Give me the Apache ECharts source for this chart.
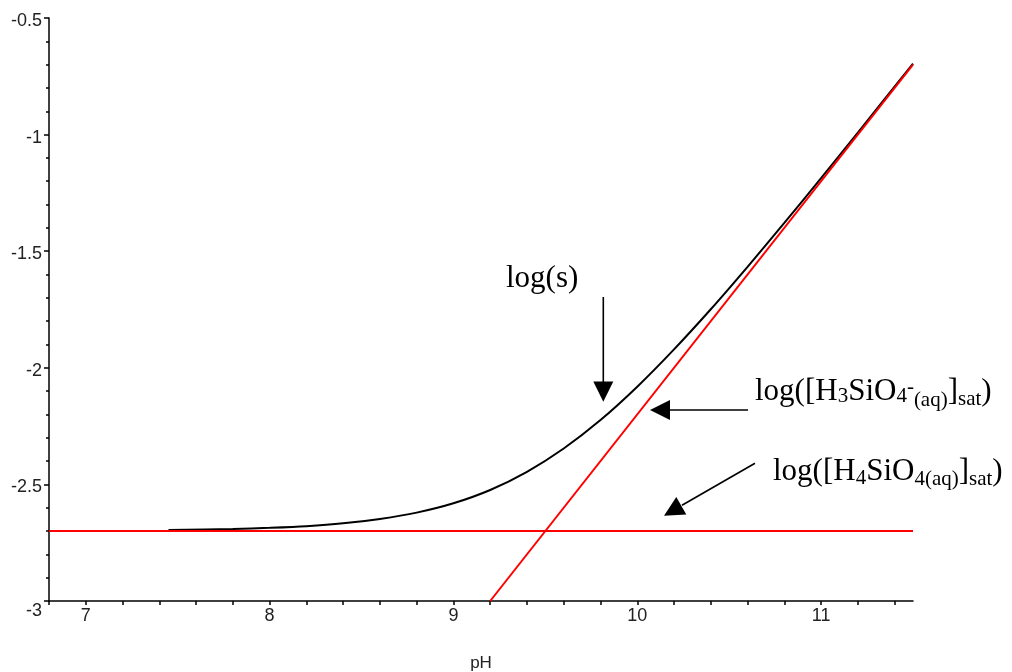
<!DOCTYPE html>
<html>
<head>
<meta charset="utf-8">
<script src="https://cdn.jsdelivr.net/npm/echarts@6/dist/echarts.min.js"></script>
<style>html,body{margin:0;padding:0;background:#fff}#c{width:1012px;height:672px}</style>
</head>
<body>
<div id="c"></div>
<script>
// ---- data ----
const phValues = [7.45, 7.8, 8.0, 8.2, 8.4, 8.6, 8.8, 9.0, 9.2, 9.4, 9.6, 9.8, 10.0, 10.2, 10.4, 10.6, 10.8, 11.0, 11.2, 11.5];
const logS     = [-2.696, -2.691, -2.686, -2.679, -2.667, -2.648, -2.621, -2.581, -2.524, -2.446, -2.346, -2.224, -2.081, -1.921, -1.749, -1.567, -1.379, -1.187, -0.991, -0.696];
const h4Line   = [[6.8, -2.7], [11.5, -2.7]];
const h3Line   = [[9.2, -3.0], [11.5, -0.7]];
const xTickValues  = [6.8, 7.0, 7.2, 7.4, 7.6, 7.8, 8.0, 8.2, 8.4, 8.6, 8.8, 9.0, 9.2, 9.4, 9.6, 9.8, 10.0, 10.2, 10.4, 10.6, 10.8, 11.0, 11.2, 11.4];
const xLabelValues = [7, 8, 9, 10, 11];

const serif = "'Liberation Serif','Times New Roman',serif";
const sans = "'Liberation Sans',Arial,sans-serif";

const chart = echarts.init(document.getElementById('c'));
chart.setOption({
  animation: false,
  backgroundColor: '#fff',
  grid: { left: 49, right: 99, top: 18, bottom: 71, containLabel: false, outerBoundsMode: 'none' },
  xAxis: {
    type: 'value', min: 6.8, max: 11.5,
    name: 'pH', nameLocation: 'middle', nameGap: 54,
    nameTextStyle: { fontFamily: sans, fontSize: 17, color: '#222' },
    axisLine: { show: true, onZero: false, lineStyle: { color: '#000', width: 1.5 } },
    axisTick: { show: true, length: 4, customValues: xTickValues, lineStyle: { color: '#000', width: 1.5 } },
    axisLabel: { customValues: xLabelValues, margin: 6, fontFamily: sans, fontSize: 18, color: '#222' },
    splitLine: { show: false }
  },
  yAxis: {
    type: 'value', min: -3, max: -0.5, interval: 0.5,
    axisLine: { show: true, onZero: false, lineStyle: { color: '#000', width: 1.5 } },
    axisTick: { show: true, length: 5, lineStyle: { color: '#000', width: 1.5 } },
    minorTick: { show: true, splitNumber: 5, length: 3, lineStyle: { color: '#000', width: 1.5 } },
    axisLabel: {
      margin: 7, fontFamily: sans, fontSize: 18, color: '#222',
      formatter: v => (v === -3 ? '{m|-3}' : '{n|' + v + '}'),
      rich: {
        n: { fontFamily: sans, fontSize: 18, color: '#222', padding: [6, 0, 0, 0] },
        m: { fontFamily: sans, fontSize: 18, color: '#222', padding: [20, 0, 0, 0] }
      }
    },
    splitLine: { show: false }
  },
  series: [
    {
      name: 'log(s)', type: 'line', showSymbol: false, smooth: 0.3,
      data: phValues.map((p, i) => [p, logS[i]]),
      lineStyle: { color: '#000', width: 2 }, z: 2
    },
    {
      name: 'H4SiO4', type: 'line', showSymbol: false, data: h4Line,
      lineStyle: { color: '#ff0000', width: 2 }, z: 3
    },
    {
      name: 'H3SiO4', type: 'line', showSymbol: false, data: h3Line,
      lineStyle: { color: '#ff0000', width: 2 }, z: 3
    }
  ],
  graphic: [
    // arrow to log(s)
    { type: 'line', shape: { x1: 603.3, y1: 297, x2: 603.3, y2: 384 }, style: { stroke: '#000', lineWidth: 1.6 } },
    { type: 'polygon', shape: { points: [[593.3, 381.5], [613.3, 381.5], [603.3, 401.7]] }, style: { fill: '#000' } },
    // arrow to H3SiO4- line
    { type: 'line', shape: { x1: 748, y1: 410, x2: 667, y2: 410 }, style: { stroke: '#000', lineWidth: 1.6 } },
    { type: 'polygon', shape: { points: [[650, 410], [670, 400], [670, 420]] }, style: { fill: '#000' } },
    // arrow to H4SiO4 line
    { type: 'line', shape: { x1: 755, y1: 463.3, x2: 682, y2: 505.3 }, style: { stroke: '#000', lineWidth: 1.6 } },
    { type: 'polygon', shape: { points: [[664, 515.7], [686.3, 514.4], [676.3, 497.0]] }, style: { fill: '#000' } },
    // labels
    { type: 'text', style: { text: 'log(s)', x: 506, y: 279, font: '31px ' + serif, fill: '#000', align: 'left', verticalAlign: 'middle' } },
    {
      type: 'text',
      style: {
        text: '{n|log([H}{s1|3}{n|SiO}{s1|4}{sp|-}{s2|(aq)}{n|]}{s3|sat}{n|)}',
        x: 755, y: 392, align: 'left', verticalAlign: 'middle', fill: '#000',
        rich: {
          n: { fontFamily: serif, fontSize: 31, fill: '#000' },
          s1: { fontFamily: serif, fontSize: 21, fill: '#000', padding: [9, 0, 0, 0] },
          sp: { fontFamily: serif, fontSize: 21, fill: '#000', padding: [0, 0, 10, 0] },
          s2: { fontFamily: serif, fontSize: 21, fill: '#000', padding: [17, 0, 0, 0] },
          s3: { fontFamily: serif, fontSize: 21, fill: '#000', padding: [15, 0, 0, 0] }
        }
      }
    },
    {
      type: 'text',
      style: {
        text: '{n|log([H}{s1|4}{n|SiO}{s2|4(aq)}{n|]}{s2|sat}{n|)}',
        x: 773, y: 472, align: 'left', verticalAlign: 'middle', fill: '#000',
        rich: {
          n: { fontFamily: serif, fontSize: 31, fill: '#000' },
          s1: { fontFamily: serif, fontSize: 21, fill: '#000', padding: [12, 0, 0, 0] },
          s2: { fontFamily: serif, fontSize: 21, fill: '#000', padding: [15, 0, 0, 0] }
        }
      }
    }
  ]
});
</script>
</body>
</html>
